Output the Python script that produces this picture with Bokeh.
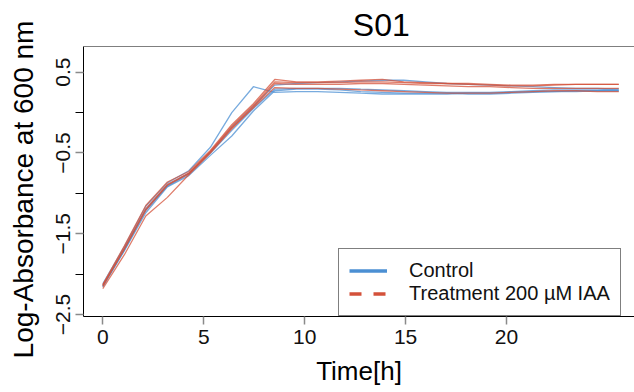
import math
from bokeh.plotting import figure
from bokeh.layouts import column, row
from bokeh.models import Range1d, FixedTicker, Legend, LegendItem, Span, Label
from bokeh.embed import file_html
from bokeh.resources import INLINE

# ---- data ----
time_h = [0.0, 1.07, 2.13, 3.2, 4.26, 5.33, 6.39, 7.46, 8.52, 9.59, 10.65, 11.72, 12.78,
          13.85, 14.91, 15.98, 17.04, 18.11, 19.17, 20.24, 21.3, 22.37, 23.43, 24.5, 25.56]

control_1 = [-2.12, -1.66, -1.16, -0.87, -0.72, -0.43, 0.00, 0.32, 0.25, 0.26, 0.26, 0.25, 0.24,
             0.23, 0.23, 0.23, 0.23, 0.24, 0.24, 0.25, 0.26, 0.26, 0.27, 0.27, 0.27]
control_2 = [-2.15, -1.71, -1.24, -0.92, -0.78, -0.53, -0.29, 0.02, 0.27, 0.29, 0.29, 0.28, 0.26,
             0.25, 0.24, 0.24, 0.24, 0.23, 0.23, 0.24, 0.25, 0.26, 0.26, 0.27, 0.27]
control_3 = [-2.14, -1.69, -1.20, -0.90, -0.75, -0.49, -0.18, 0.08, 0.34, 0.36, 0.37, 0.38, 0.39,
             0.40, 0.40, 0.38, 0.36, 0.35, 0.34, 0.33, 0.32, 0.31, 0.30, 0.30, 0.29]
control_4 = [-2.16, -1.70, -1.21, -0.91, -0.76, -0.50, -0.22, 0.05, 0.29, 0.30, 0.30, 0.30, 0.29,
             0.28, 0.27, 0.26, 0.25, 0.25, 0.25, 0.26, 0.27, 0.28, 0.28, 0.28, 0.29]

treat_1 = [-2.13, -1.65, -1.15, -0.86, -0.73, -0.47, -0.15, 0.11, 0.41, 0.38, 0.38, 0.39, 0.40,
           0.41, 0.38, 0.37, 0.36, 0.36, 0.35, 0.34, 0.34, 0.35, 0.35, 0.35, 0.35]
treat_2 = [-2.15, -1.68, -1.19, -0.89, -0.75, -0.48, -0.17, 0.09, 0.38, 0.37, 0.37, 0.37, 0.38,
           0.38, 0.37, 0.36, 0.36, 0.35, 0.34, 0.33, 0.33, 0.34, 0.35, 0.35, 0.35]
treat_3 = [-2.18, -1.76, -1.28, -1.05, -0.77, -0.50, -0.20, 0.07, 0.36, 0.35, 0.35, 0.35, 0.36,
           0.36, 0.35, 0.34, 0.33, 0.32, 0.32, 0.31, 0.30, 0.30, 0.30, 0.30, 0.30]
treat_4 = [-2.14, -1.69, -1.21, -0.90, -0.76, -0.49, -0.19, 0.06, 0.31, 0.30, 0.30, 0.29, 0.28,
           0.27, 0.26, 0.25, 0.24, 0.24, 0.24, 0.25, 0.26, 0.27, 0.27, 0.26, 0.26]

control_series = [control_1, control_2, control_3, control_4]
treat_series = [treat_1, treat_2, treat_3, treat_4]

x_ticks = [0, 5, 10, 15, 20]
y_ticks_labeled = [-2.5, -1.5, -0.5, 0.5]
y_ticks_unlabeled = [-2.0, -1.0, 0.0]

title_text = "S01"
x_label = "Time[h]"
y_label = "Log-Absorbance at 600 nm"
legend_labels = ["Control", "Treatment 200 \u00b5M IAA"]

CONTROL_COLOR = "#4b8fd3"
TREAT_COLOR = "#d4513a"
FONT = "Liberation Sans"
Y_TOP = 0.818


def blank(fig):
    fig.outline_line_color = None
    fig.xgrid.visible = False
    fig.ygrid.visible = False
    fig.background_fill_color = "white"
    fig.border_fill_color = "white"


# ---- left strip holding the rotated y-axis title ----
left = figure(width=40, height=392, output_backend="svg", toolbar_location=None,
              x_range=Range1d(0, 40), y_range=Range1d(0, 392),
              x_axis_type=None, y_axis_type=None,
              min_border_left=0, min_border_right=0, min_border_top=0, min_border_bottom=0)
blank(left)
left.add_layout(Label(x=23, y=203, text=y_label, angle=math.pi / 2, text_font=FONT,
                      text_font_size="28px", text_color="black",
                      text_align="center", text_baseline="middle"))

# ---- title strip ----
t = figure(width=594, height=45, output_backend="svg", toolbar_location=None,
           x_range=Range1d(0, 594), y_range=Range1d(0, 45),
           x_axis_type=None, y_axis_type=None,
           min_border_left=0, min_border_right=0, min_border_top=0, min_border_bottom=0)
blank(t)
t.add_layout(Label(x=321, y=21, text=title_text, text_font=FONT, text_font_size="32px",
                   text_color="black", text_align="center", text_baseline="alphabetic"))

# ---- main plot ----
p = figure(width=594, height=347, output_backend="svg", toolbar_location=None,
           x_range=Range1d(-0.956, 26.34), y_range=Range1d(-2.525, Y_TOP),
           min_border_left=43, min_border_right=0, min_border_top=1, min_border_bottom=76)
blank(p)

for ys in control_series:
    p.line(time_h, ys, line_color=CONTROL_COLOR, line_width=1.3, line_alpha=0.75)
for ys in treat_series:
    p.line(time_h, ys, line_color=TREAT_COLOR, line_width=1.3, line_alpha=0.75)

# top edge of the box
p.add_layout(Span(location=Y_TOP, dimension="width", line_color="black", line_width=1))

# axes
xa = p.xaxis[0]
xa.ticker = FixedTicker(ticks=x_ticks)
xa.axis_label = x_label
ya = p.yaxis[0]
ya.ticker = FixedTicker(ticks=y_ticks_labeled, minor_ticks=y_ticks_unlabeled)
ya.major_label_orientation = "vertical"

for ax in (xa, ya):
    ax.axis_line_color = "black"
    ax.axis_line_width = 1
    ax.major_tick_line_color = "#8a8a8a"
    ax.major_tick_line_width = 1.5
    ax.major_tick_in = 0
    ax.major_tick_out = 8
    ax.minor_tick_line_color = "black"
    ax.minor_tick_in = 0
    ax.minor_tick_out = 8
    ax.major_label_text_font = FONT
    ax.major_label_text_font_size = "21px"
    ax.major_label_text_color = "#111111"
    ax.major_label_standoff = 5
    ax.axis_label_text_font = FONT
    ax.axis_label_text_font_style = "normal"
    ax.axis_label_text_color = "black"
xa.minor_tick_line_color = None
xa.axis_label_text_font_size = "26px"
xa.axis_label_standoff = 9

# legend (thicker, dashed for treatment as in the reference)
nan = float("nan")
r_c = p.line([nan, nan], [nan, nan], line_color=CONTROL_COLOR, line_width=3.5)
r_t = p.line([nan, nan], [nan, nan], line_color=TREAT_COLOR, line_width=3.5, line_dash="12 12")
legend = Legend(items=[LegendItem(label=legend_labels[0], renderers=[r_c]),
                       LegendItem(label=legend_labels[1], renderers=[r_t])],
                location=(255, 0), margin=0, padding=10, spacing=0,
                glyph_width=38, glyph_height=21, label_height=21, label_standoff=22,
                border_line_color="black", border_line_width=1,
                background_fill_color="white", background_fill_alpha=1.0,
                label_text_font=FONT, label_text_font_size="20px", label_text_color="#111111")
p.add_layout(legend)

layout = row(left, column(t, p, spacing=0), spacing=0)
open("out.html", "w").write(file_html(layout, INLINE))
